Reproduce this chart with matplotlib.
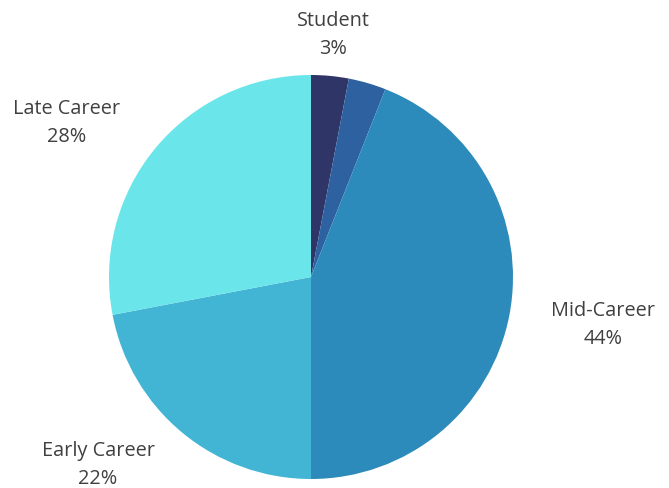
import matplotlib
matplotlib.use("Agg")
import matplotlib.pyplot as plt

categories = ["Student", "", "Mid-Career", "Early Career", "Late Career"]
values = [3, 3, 44, 22, 28]
colors = ["#303567", "#2e61a0", "#2d8bbb", "#42b5d5", "#6ae5e9"]
pct_labels = ["3%", "", "44%", "22%", "28%"]

W, H = 669, 488
fig = plt.figure(figsize=(W / 100, H / 100), dpi=100)
ax = fig.add_axes([0, 0, 1, 1])

cx, cy, r = 311, H - 277, 202
ax.pie(values, colors=colors, startangle=90, counterclock=False,
       center=(cx, cy), radius=r, frame=True,
       wedgeprops=dict(linewidth=0))
ax.set_xlim(0, W)
ax.set_ylim(0, H)
ax.set_aspect("equal")
ax.axis("off")

# label anchor positions (pixels, from top-left)
label_pos = [(333, 35), None, (603, 325), (98, 465), (67, 123)]
for cat, pct, pos in zip(categories, pct_labels, label_pos):
    if pos is None or not cat:
        continue
    ax.text(pos[0], H - pos[1], f"{cat}\n{pct}", ha="center", va="center",
            fontsize=14.3, family=["Open Sans", "DejaVu Sans"], color="#404040",
            linespacing=1.5)

fig.savefig("out.png", dpi=100)
